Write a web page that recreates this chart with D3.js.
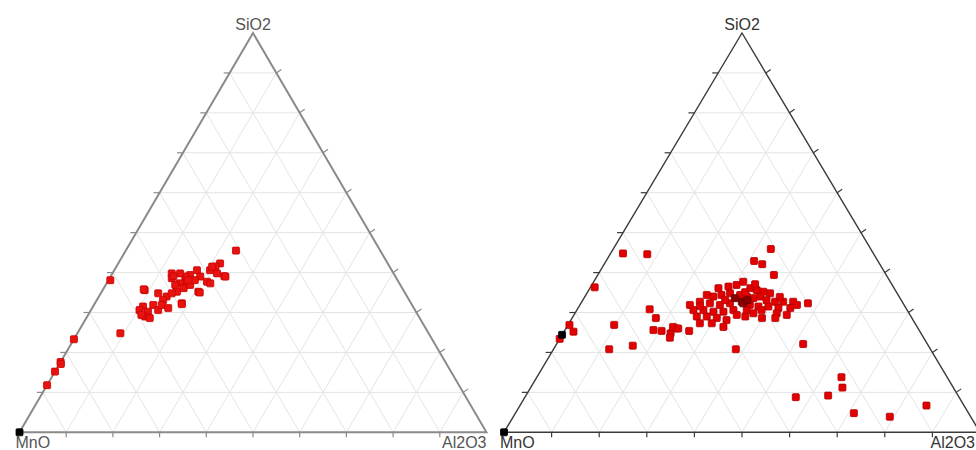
<!DOCTYPE html>
<html>
<head>
<meta charset="utf-8">
<script src="https://cdn.jsdelivr.net/npm/d3@7"></script>
<style>
  body { margin: 0; background: #fff; }
  svg { display: block; }
</style>
</head>
<body>
<div id="chart"></div>
<script>
// axis names
var apexLabels = ["SiO2", "MnO", "Al2O3"];
var ticks = [10, 20, 30, 40, 50, 60, 70, 80, 90];

// left diagram (wt %), MnO = 100 - SiO2 - Al2O3
var leftSiO2 = [45.5, 38.1, 24.8, 23.3, 17.6, 17.1, 15.2, 11.8, 42.3, 41.5, 40.6, 39.1, 40.6, 39.4, 39.0,
  39.8, 39.8, 38.6, 37.7, 39.0, 37.7, 37.3, 37.3, 36.1, 35.2, 35.2, 35.6, 34.8, 34.0, 34.8, 33.1, 32.3,
  31.9, 31.5, 30.6, 30.2, 30.6, 29.0, 28.6, 29.4, 31.9, 31.1, 36.9, 38.1, 36.9, 38.1, 39.8, 41.5, 39.0,
  35.0, 32.1, 35.8, 39.1];
var leftAl2O3 = [23.6, 0.4, 9.2, 0.0, 0.0, 0.3, 0.0, 0.0, 21.8, 21.2, 20.5, 24.3, 17.7, 16.8, 16.0,
  14.5, 12.7, 13.3, 17.0, 19.2, 21.3, 22.2, 15.7, 17.1, 16.1, 20.7, 9.0, 12.3, 14.5, 15.2, 14.2, 18.6,
  12.7, 10.7, 10.4, 12.4, 14.4, 12.4, 13.6, 11.4, 14.5, 16.3, 18.1, 18.5, 14.9, 17.1, 22.4, 20.5, 24.6,
  21.1, 18.7, 8.7, 13.4];
var leftBlackSiO2 = [0];
var leftBlackAl2O3 = [0];

// right diagram
var rightSiO2 = [45.9, 44.8, 44.6, 42.9, 42.1, 39.4, 36.3, 26.9, 25.2, 23.4, 26.9, 30.8, 28.6, 25.6,
  25.4, 24.8, 23.7, 26.0, 25.4, 20.8, 21.7, 20.8, 22.1, 32.3, 13.8, 11.2, 8.8, 9.2, 4.8, 3.9, 6.7,
  37.7, 36.9, 36.5, 36.1, 36.1, 35.6, 35.2, 34.8, 34.4, 34.0, 34.4, 34.8, 34.4, 34.0, 33.6, 34.0, 33.1,
  32.7, 32.7, 32.7, 32.7, 32.3, 31.9, 32.3, 31.9, 31.5, 31.5, 31.1, 31.1, 31.9, 30.6, 30.6, 30.2, 30.2,
  30.6, 30.6, 30.6, 29.8, 29.4, 28.6, 28.6, 29.0, 29.0, 28.6, 28.1, 27.3, 27.3, 26.4, 29.4, 29.0, 29.8,
  26.4, 26.0, 33.1, 33.9, 35.1, 31.6, 31.9, 37.1];
var rightAl2O3 = [33.1, 2.6, 7.8, 31.1, 33.2, 37.0, 0.9, 0.3, 2.0, 0.0, 9.7, 15.2, 17.6, 18.6,
  20.4, 22.6, 23.0, 23.2, 26.2, 11.7, 16.2, 38.3, 51.8, 47.7, 64.0, 65.5, 56.9, 63.5, 71.1, 79.1, 85.4,
  31.4, 30.4, 28.9, 27.0, 33.7, 35.3, 36.9, 38.5, 25.4, 27.0, 28.5, 30.1, 32.4, 34.0, 35.6, 36.8, 38.6,
  40.6, 42.3, 44.4, 24.8, 27.1, 29.4, 31.3, 35.7, 37.7, 39.8, 42.1, 44.6, 45.6, 24.5, 26.6, 28.9, 31.0,
  32.9, 35.7, 38.8, 42.4, 44.7, 42.7, 39.9, 26.0, 28.1, 30.4, 32.7, 27.5, 30.0, 32.9, 34.2, 36.2, 37.5,
  22.3, 23.6, 29.9, 41.0, 33.1, 25.4, 23.1, 34.2];
var rightDarkSiO2 = [32.7, 32.3, 33.6, 33.1];
var rightDarkAl2O3 = [33.6, 34.1, 31.7, 34.6];
var rightBlackSiO2 = [24.4, 0];
var rightBlackAl2O3 = [0, 0];

var svg = d3.select("#chart")
  .append("svg")
  .attr("width", 976)
  .attr("height", 450);

var leftPanel = {
  left: 19.5, right: 486.5, base: 432.3, top: 33,
  edge: "#8a8a8a", edgeWidth: 2, text: "#555", marker: "#e8120f", markerEdge: "#c80000",
  points: [leftSiO2, leftAl2O3], dark: null, black: [leftBlackSiO2, leftBlackAl2O3]
};
var rightPanel = {
  left: 504, right: 980, base: 432.3, top: 33,
  edge: "#3a3a3a", edgeWidth: 1.4, text: "#333", marker: "#e20000", markerEdge: "#b00000",
  points: [rightSiO2, rightAl2O3], dark: [rightDarkSiO2, rightDarkAl2O3], black: [rightBlackSiO2, rightBlackAl2O3]
};

drawTernary(leftPanel, 0, 488);
drawTernary(rightPanel, 488, 976);

function drawTernary(p, x0, x1) {
  var id = "clip" + x0;
  svg.append("clipPath").attr("id", id)
    .append("rect").attr("x", x0).attr("y", 0).attr("width", x1 - x0).attr("height", 450);
  var g = svg.append("g").attr("clip-path", `url(#${id})`);

  // x along base for (Al2O3 + SiO2/2), y by SiO2
  var x = d3.scaleLinear().domain([0, 100]).range([p.left, p.right]);
  var y = d3.scaleLinear().domain([0, 100]).range([p.base, p.top]);
  var pos = (s, a) => [x(a + s / 2), y(s)];

  // grid
  var grid = [];
  ticks.forEach(t => {
    grid.push([pos(t, 0), pos(t, 100 - t)]);        // SiO2 const
    grid.push([pos(0, t), pos(100 - t, t)]);        // Al2O3 const
    grid.push([pos(0, 100 - t), pos(100 - t, 0)]);  // MnO const
  });
  g.selectAll("line.grid")
    .data(grid)
    .join("line")
    .attr("class", "grid")
    .attr("x1", d => d[0][0]).attr("y1", d => d[0][1])
    .attr("x2", d => d[1][0]).attr("y2", d => d[1][1])
    .style("stroke", "#e4e4e4")
    .style("stroke-width", 1);

  // ticks
  var tk = [];
  ticks.forEach(t => {
    var b = pos(0, t); tk.push([b, [b[0], b[1] + 5]]);
    var l = pos(t, 0); tk.push([l, [l[0] - 6, l[1]]]);
    var r = pos(t, 100 - t); tk.push([r, [r[0] + 5, r[1] - 3.5]]);
  });
  g.selectAll("line.tick")
    .data(tk)
    .join("line")
    .attr("class", "tick")
    .attr("x1", d => d[0][0]).attr("y1", d => d[0][1])
    .attr("x2", d => d[1][0]).attr("y2", d => d[1][1])
    .style("stroke", p.edge)
    .style("stroke-width", 1.2);

  // frame
  var corners = [pos(100, 0), pos(0, 0), pos(0, 100)];
  g.append("path")
    .attr("d", d3.line()(corners) + "Z")
    .style("fill", "none")
    .style("stroke", p.edge)
    .style("stroke-width", p.edgeWidth)
    .style("stroke-linejoin", "miter");

  // points
  var size = 7;
  function addPoints(arr, fill, stroke) {
    var pts = arr[0].map((s, i) => pos(s, arr[1][i]));
    g.append("g").selectAll("rect")
      .data(pts)
      .join("rect")
      .attr("x", d => d[0] - size / 2)
      .attr("y", d => d[1] - size / 2)
      .attr("width", size)
      .attr("height", size)
      .attr("rx", 1)
      .style("fill", fill)
      .style("stroke", stroke)
      .style("stroke-width", 0.8);
  }
  addPoints(p.points, p.marker, p.markerEdge);
  if (p.dark) addPoints(p.dark, "#8a0000", "#6a0000");
  addPoints(p.black, "#000", "#000");

  // labels
  g.append("text")
    .attr("x", corners[0][0])
    .attr("y", corners[0][1] - 3)
    .attr("text-anchor", "middle")
    .text(apexLabels[0]);
  g.append("text")
    .attr("x", corners[1][0] - 4)
    .attr("y", 448)
    .text(apexLabels[1]);
  g.append("text")
    .attr("x", Math.min(corners[2][0], x1 - 1))
    .attr("y", 448)
    .attr("text-anchor", "end")
    .text(apexLabels[2]);
  g.selectAll("text")
    .style("font-family", "Liberation Sans, Arial, sans-serif")
    .style("font-size", "16px")
    .style("fill", p.text);
}
</script>
</body>
</html>
